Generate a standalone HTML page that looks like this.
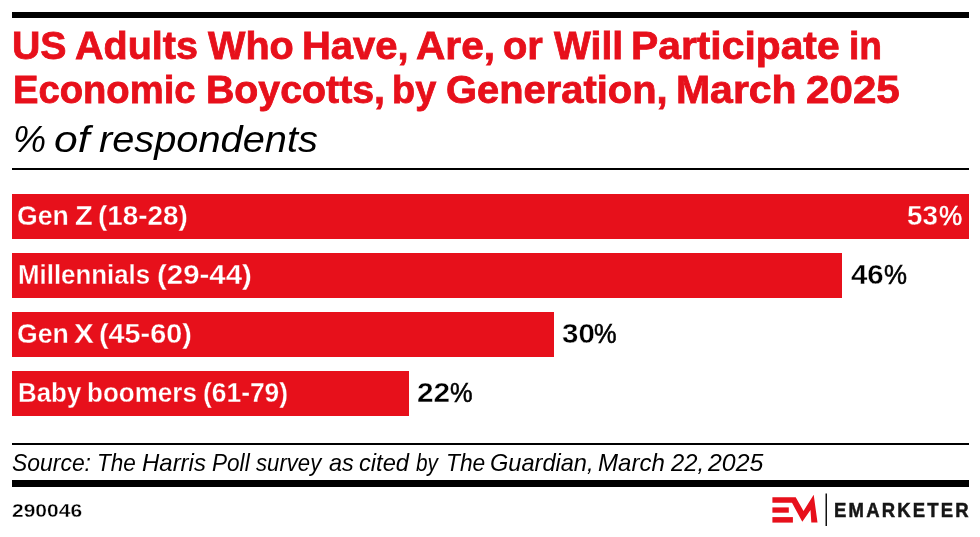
<!DOCTYPE html>
<html lang="en"><head><meta charset="utf-8"><title>US Adults Who Have, Are, or Will Participate in Economic Boycotts, by Generation, March 2025</title>
<style>
html,body{margin:0;padding:0;background:#fff;}
body{width:980px;height:537px;position:relative;overflow:hidden;font-family:"Liberation Sans",sans-serif;}
.abs{position:absolute;white-space:nowrap;line-height:1;transform-origin:0 0;}
.ln{position:absolute;left:0;margin:0;padding:0;white-space:nowrap;font-size:0;line-height:0;font-weight:normal;}
.w{display:inline-block;width:0;vertical-align:top;line-height:1;white-space:nowrap;transform-origin:0 0;}
.rule{position:absolute;left:12px;width:956.5px;background:#000;}
.bar{position:absolute;left:12px;height:44.5px;background:#e7101b;}
.logo{position:absolute;left:770px;top:490px;}
.t{color:#e7101b;font-weight:bold;-webkit-text-stroke:0.8px #e7101b;}
.lab{color:#fff;font-weight:bold;-webkit-text-stroke:0.3px #e7101b;}
.val{font-weight:bold;color:#000;}
.it{font-style:italic;color:#000;}
.b{font-weight:bold;color:#000;}
</style></head><body>
<div class="rule" style="top:11.8px;height:6.6px"></div>
<h1 class="ln " style="top:26px"><span class="w t" style="margin-left:12.150px;font-size:39.3px;transform:scaleX(0.9995);">US</span> <span class="w t" style="margin-left:62.800px;font-size:39.3px;transform:scaleX(1.0060);">Adults</span> <span class="w t" style="margin-left:132.990px;font-size:39.3px;transform:scaleX(1.0077);">Who</span> <span class="w t" style="margin-left:93.890px;font-size:39.3px;transform:scaleX(1.0172);">Have,</span> <span class="w t" style="margin-left:114.100px;font-size:39.3px;transform:scaleX(1.0346);">Are,</span> <span class="w t" style="margin-left:86.970px;font-size:39.3px;transform:scaleX(1.0151);">or</span> <span class="w t" style="margin-left:50.730px;font-size:39.3px;transform:scaleX(0.9944);">Will</span> <span class="w t" style="margin-left:77.660px;font-size:39.3px;transform:scaleX(1.0381);">Participate</span> <span class="w t" style="margin-left:217.880px;font-size:39.3px;transform:scaleX(0.9477);">in</span></h1>
<h1 class="ln " style="top:70px"><span class="w t" style="margin-left:12.930px;font-size:39.3px;transform:scaleX(0.9718);">Economic</span> <span class="w t" style="margin-left:193.440px;font-size:39.3px;transform:scaleX(0.9996);">Boycotts,</span> <span class="w t" style="margin-left:186.070px;font-size:39.3px;transform:scaleX(0.9639);">by</span> <span class="w t" style="margin-left:53.710px;font-size:39.3px;transform:scaleX(1.0150);">Generation,</span> <span class="w t" style="margin-left:229.630px;font-size:39.3px;transform:scaleX(1.0422);">March</span> <span class="w t" style="margin-left:129.810px;font-size:39.3px;transform:scaleX(1.0727);">2025</span></h1>
<p class="ln " style="top:122px"><span class="w it" style="margin-left:12.620px;font-size:36.6px;transform:scaleX(1.0187);">%</span> <span class="w it" style="margin-left:41.610px;font-size:36.6px;transform:scaleX(1.1645);">of</span> <span class="w it" style="margin-left:44.800px;font-size:36.6px;transform:scaleX(1.0871);">respondents</span></p>
<div class="rule" style="top:168.1px;height:1.8px"></div>

<div class="bar" style="top:194px;width:956.6px"></div>
<div class="bar" style="top:253px;width:830.1px"></div>
<div class="bar" style="top:312px;width:541.6px"></div>
<div class="bar" style="top:371px;width:397.1px"></div>

<div class="ln " style="top:202px"><span class="w lab" style="margin-left:17.040px;font-size:27.8px;transform:scaleX(0.9569);">Gen</span> <span class="w lab" style="margin-left:58.080px;font-size:27.8px;transform:scaleX(1.0451);">Z</span> <span class="w lab" style="margin-left:22.910px;font-size:27.8px;transform:scaleX(1.0004);">(18-28)</span></div>
<div class="ln " style="top:202px"><span class="w val onred" style="margin-left:907.370px;font-size:27.4px;transform:scaleX(1.0139);color:#fff;-webkit-text-stroke:0.35px #e7101b;">53</span><span class="w val onred" style="margin-left:31.200px;font-size:27.0px;transform:scaleX(0.9659);position:relative;top:1px;color:#fff;font-weight:normal;-webkit-text-stroke:0.55px #fff;">%</span></div>
<div class="ln " style="top:261px"><span class="w lab" style="margin-left:18.060px;font-size:27.8px;transform:scaleX(0.9295);">Millennials</span> <span class="w lab" style="margin-left:138.880px;font-size:27.8px;transform:scaleX(1.0583);">(29-44)</span></div>
<div class="ln " style="top:261px"><span class="w val" style="margin-left:850.680px;font-size:27.4px;transform:scaleX(1.0736);-webkit-text-stroke:0.35px #fff;">46</span><span class="w val" style="margin-left:32.830px;font-size:27.0px;transform:scaleX(0.9581);position:relative;top:1px;font-weight:normal;-webkit-text-stroke:0.55px #000;">%</span></div>
<div class="ln " style="top:320px"><span class="w lab" style="margin-left:17.040px;font-size:27.8px;transform:scaleX(0.9569);">Gen</span> <span class="w lab" style="margin-left:57.210px;font-size:27.8px;transform:scaleX(1.0672);">X</span> <span class="w lab" style="margin-left:25.130px;font-size:27.8px;transform:scaleX(1.0351);">(45-60)</span></div>
<div class="ln " style="top:320px"><span class="w val" style="margin-left:561.610px;font-size:27.4px;transform:scaleX(1.0756);-webkit-text-stroke:0.35px #fff;">30</span><span class="w val" style="margin-left:32.720px;font-size:27.0px;transform:scaleX(0.9403);position:relative;top:1px;font-weight:normal;-webkit-text-stroke:0.55px #000;">%</span></div>
<div class="ln " style="top:379px"><span class="w lab" style="margin-left:17.660px;font-size:27.8px;transform:scaleX(0.9311);">Baby</span> <span class="w lab" style="margin-left:69.590px;font-size:27.8px;transform:scaleX(0.9357);">boomers</span> <span class="w lab" style="margin-left:116.260px;font-size:27.8px;transform:scaleX(0.9494);">(61-79)</span></div>
<div class="ln " style="top:379px"><span class="w val" style="margin-left:417.230px;font-size:27.4px;transform:scaleX(1.0872);-webkit-text-stroke:0.35px #fff;">22</span><span class="w val" style="margin-left:33.100px;font-size:27.0px;transform:scaleX(0.9403);position:relative;top:1px;font-weight:normal;-webkit-text-stroke:0.55px #000;">%</span></div>

<div class="rule" style="top:443.3px;height:1.8px"></div>
<p class="ln " style="top:452px"><span class="w it" style="margin-left:11.990px;font-size:23.2px;transform:scaleX(0.9885);">Source:</span> <span class="w it" style="margin-left:85.140px;font-size:23.2px;transform:scaleX(0.9713);">The</span> <span class="w it" style="margin-left:44.840px;font-size:23.2px;transform:scaleX(1.0333);">Harris</span> <span class="w it" style="margin-left:70.060px;font-size:23.2px;transform:scaleX(0.9737);">Poll</span> <span class="w it" style="margin-left:44.090px;font-size:23.2px;transform:scaleX(0.9547);">survey</span> <span class="w it" style="margin-left:73.300px;font-size:23.2px;transform:scaleX(1.0118);">as</span> <span class="w it" style="margin-left:29.750px;font-size:23.2px;transform:scaleX(1.0208);">cited</span> <span class="w it" style="margin-left:57.010px;font-size:23.2px;transform:scaleX(0.8954);">by</span> <span class="w it" style="margin-left:29.520px;font-size:23.2px;transform:scaleX(0.9822);">The</span> <span class="w it" style="margin-left:44.660px;font-size:23.2px;transform:scaleX(1.0166);">Guardian,</span> <span class="w it" style="margin-left:107.600px;font-size:23.2px;transform:scaleX(1.0371);">March</span> <span class="w it" style="margin-left:73.040px;font-size:23.2px;transform:scaleX(1.0233);">22,</span> <span class="w it" style="margin-left:37.000px;font-size:23.2px;transform:scaleX(1.0718);">2025</span></p>
<div class="rule" style="top:480.4px;height:6.5px"></div>
<div class="ln " style="top:502px"><span class="w b" style="margin-left:11.610px;font-size:18.5px;transform:scaleX(1.1359);-webkit-text-stroke:0.3px #fff;">290046</span></div>

<svg class="logo" width="60" height="40" viewBox="770 490 60 40" aria-hidden="true">
<g fill="#e7101b">
<polygon points="772.4,497.3 795.7,497.3 803.5,511 813.7,494.8 817.5,522.5 811.3,522.5 810.5,510.1 802.3,521.8 792,502.75 772.4,502.75"/>
<rect x="772.4" y="507.4" width="16.4" height="5.3"/>
<rect x="772.4" y="517.1" width="20.5" height="5.5"/>
</g>
<rect x="825.5" y="493.5" width="1.5" height="32.5" fill="#111"/>
</svg>
<div class="ln " style="top:500px"><span class="w b" style="margin-left:834.210px;font-size:20.3px;transform:scaleX(0.9122);letter-spacing:2.4px;color:#161616;-webkit-text-stroke:0.5px #161616;">EMARKETER</span></div>
</body></html>
